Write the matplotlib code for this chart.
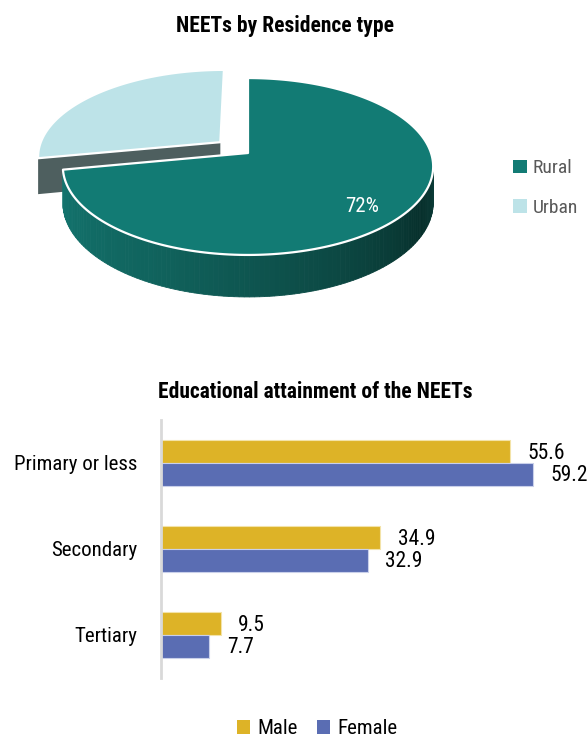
import numpy as np
import matplotlib
matplotlib.use("Agg")
import matplotlib.pyplot as plt
from matplotlib.patches import Polygon, Patch
from matplotlib.colors import LinearSegmentedColormap
from matplotlib import font_manager

# --- data ---
residence = ["Rural", "Urban"]
residence_share = [72, 28]
residence_colors = ["#127b74", "#bde3e8"]

levels = ["Primary or less", "Secondary", "Tertiary"]
male = [55.6, 34.9, 9.5]
female = [59.2, 32.9, 7.7]

# narrow face if one is around, otherwise condensed DejaVu
names = {f.name for f in font_manager.fontManager.ttflist}
FONT = "DejaVu Sans"
for cand in ("Roboto Condensed", "Liberation Sans Narrow", "Open Sans Condensed",
             "Noto Sans Condensed", "DejaVu Sans Condensed"):
    if cand in names:
        FONT = cand
        break
plt.rcParams["font.family"] = [FONT, "DejaVu Sans"]
plt.rcParams["font.stretch"] = "condensed"

fig = plt.figure(figsize=(5.88, 7.47), dpi=100)

# ---------------- 3D pie (drawn by hand in pixel space) ----------------
ax = fig.add_axes([0, 1 - 320 / 747, 1, 320 / 747])
ax.set_xlim(0, 588)
ax.set_ylim(320, 0)
ax.axis("off")

CX, CY = 248, 153      # projected centre of the disc
RX, RY = 183, 86.4     # radii
K = 0.1525             # perspective strength (back shrinks)
DEPTH = 35.6           # thickness at the centre line
EXPLODE = 0.2


def project(u, v, h=0.0):
    d = 1 + K * v
    return CX + RX * u / d, CY + (-RY * v + DEPTH * h) / d


def rim(theta, off=(0, 0), h=0.0):
    t = np.radians(theta)
    return project(off[0] + np.cos(t), off[1] + np.sin(t), h)


side_cmap = LinearSegmentedColormap.from_list(
    "side", [(0, "#13756f"), (0.35, "#10625c"), (0.65, "#0c4843"),
             (0.88, "#07302c"), (1, "#0b3b37")])

sil = np.degrees(np.arcsin(K))   # silhouette angle offset

total = sum(residence_share)
start = 90.0
slices = []
for name, share, col in zip(residence, residence_share, residence_colors):
    sweep = 360.0 * share / total
    a0, a1 = start - sweep, start        # slice covers [a0, a1]
    slices.append((name, share, col, a0, a1))
    start = a0

# urban (second slice) is pulled out and drawn first
for name, share, col, a0, a1 in reversed(slices):
    mid = np.radians((a0 + a1) / 2)
    off = (0, 0)
    if name == "Urban":
        off = (EXPLODE * np.cos(mid), EXPLODE * np.sin(mid))
    vx, vy = project(*off)
    vxb, vyb = project(*off, h=1)

    if name == "Urban":
        # cut face on the lower edge of the pulled-out slice
        b = a1 % 360
        tx, ty = rim(b, off)
        bx_, by_ = rim(b, off, 1)
        ax.add_patch(Polygon([(vx, vy), (tx, ty), (bx_, by_), (vxb, vyb)],
                             closed=True, fc="#4e5f5f", ec="none"))
        # small bit of curved side near the left corner
        th = np.linspace(180 + sil, b, 10)
        x1, y1 = rim(th, off)
        x2, y2 = rim(th[::-1], off, 1)
        ax.add_patch(Polygon(np.column_stack([np.r_[x1, x2], np.r_[y1, y2]]),
                             closed=True, fc="#4e5f5f", ec="none"))
    else:
        # curved front side with shading
        lo = max(a0, -180 - sil)
        hi = min(a1, -sil)
        th = np.linspace(lo, hi, 120)
        for i in range(len(th) - 1):
            seg = th[i:i + 2]
            x1, y1 = rim(seg, off)
            x2, y2 = rim(seg[::-1], off, 1)
            c = side_cmap((seg.mean() - lo) / (hi - lo))
            ax.add_patch(Polygon(np.column_stack([np.r_[x1, x2], np.r_[y1, y2]]),
                                 closed=True, fc=c, ec=c, lw=0.6))

    th = np.linspace(a0, a1, 200)
    xt, yt = rim(th, off)
    pts = np.column_stack([np.r_[vx, xt], np.r_[vy, yt]])
    ax.add_patch(Polygon(pts, closed=True, fc=col, ec="white", lw=1.6,
                         joinstyle="round"))

    if name == "Rural":
        f = 0.78
        lx, ly = project(f * np.cos(mid), f * np.sin(mid))
        ax.text(lx - 5, ly + 7, f"{share}%", color="white", fontsize=15,
                ha="center", va="center")

fig.text(285 / 588, 1 - 26 / 747, "NEETs by Residence type",
         ha="center", va="center", fontsize=15.5, fontweight="bold")

fig.legend(handles=[Patch(fc=c, ec="none") for c in residence_colors],
           labels=residence, loc="center left",
           bbox_to_anchor=(513 / 588, 1 - 188 / 747), frameon=False,
           fontsize=14, handlelength=0.7, handleheight=0.7,
           handletextpad=0.3, labelspacing=1.1, borderpad=0,
           borderaxespad=0, labelcolor="#595959")

# ---------------- bar chart ----------------
bx = fig.add_axes([161 / 588, 69 / 747, 377 / 588, 258 / 747])
y = np.arange(len(levels))
h = 0.262
bm = bx.barh(y - h / 2, male, height=h, color="#ddb327",
             edgecolor="#f3e3a8", linewidth=0.8)
bf = bx.barh(y + h / 2, female, height=h, color="#5a6db3",
             edgecolor="#c9d0ea", linewidth=0.8)

for bars, vals in ((bm, male), (bf, female)):
    for rect, v in zip(bars, vals):
        bx.annotate(f"{v}", (v, rect.get_y() + rect.get_height() / 2),
                    xytext=(12.5, -1), textcoords="offset points",
                    ha="left", va="center", fontsize=15.5, annotation_clip=False)

bx.set_xlim(0, 60)
bx.set_ylim(2.5, -0.5)
bx.set_yticks(y)
bx.set_yticklabels(levels, fontsize=15)
bx.tick_params(axis="y", length=0, pad=17)
bx.set_xticks([])
for s in ("top", "right", "bottom"):
    bx.spines[s].set_visible(False)
bx.spines["left"].set_color("#d9d9d9")
bx.spines["left"].set_linewidth(2)

fig.text(315 / 588, 1 - 392 / 747, "Educational attainment of the NEETs",
         ha="center", va="center", fontsize=15.5, fontweight="bold")

fig.legend(handles=[Patch(fc="#ddb327"), Patch(fc="#5a6db3")],
           labels=["Male", "Female"], loc="center",
           bbox_to_anchor=(317 / 588, 1 - 729 / 747), ncol=2, frameon=False,
           fontsize=15, handlelength=0.65, handleheight=0.65,
           handletextpad=0.35, columnspacing=0.9, borderpad=0)

fig.savefig("out.png", dpi=100)
